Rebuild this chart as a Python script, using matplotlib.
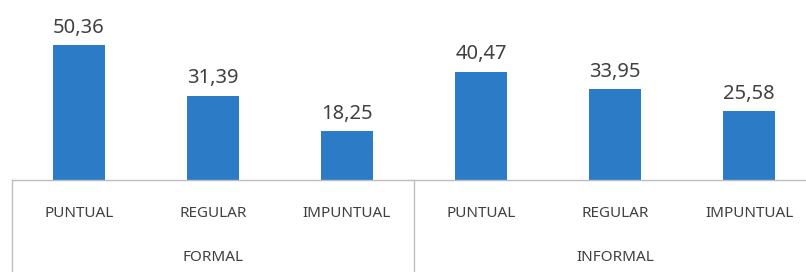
import matplotlib
matplotlib.use("Agg")
import matplotlib.pyplot as plt
import matplotlib.transforms as mtransforms

plt.rcParams['font.family'] = ['Noto Sans', 'DejaVu Sans']

groups = ['FORMAL', 'INFORMAL']
categories = ['PUNTUAL', 'REGULAR', 'IMPUNTUAL']
formal = [50.36, 31.39, 18.25]
informal = [40.47, 33.95, 25.58]

values = formal + informal
labels = categories * len(groups)
x = list(range(len(values)))

bar_color = '#2B7BC6'
text_color = '#404040'
line_color = '#BDBDBD'

fig = plt.figure(figsize=(8.06, 2.72), dpi=100)
# axes: left edge at 12px, baseline at 180px, top at figure top
ax = fig.add_axes([12 / 806, 92 / 272, 794 / 806, 180 / 272])

bars = ax.bar(x, values, width=0.39, color=bar_color)
for rect, v in zip(bars, values):
    ax.text(rect.get_x() + rect.get_width() / 2, v + 2.8,
            '{:.2f}'.format(v).replace('.', ','),
            ha='center', va='bottom', fontsize=14.5, color=text_color)

ax.set_xlim(-0.5, 5.425)
ax.set_ylim(0, 67.2)
ax.set_yticks([])
for side in ('top', 'right', 'left'):
    ax.spines[side].set_visible(False)
ax.spines['bottom'].set_color(line_color)
ax.spines['bottom'].set_linewidth(1.0)

ax.set_xticks(x)
ax.set_xticklabels(labels, fontsize=11, color=text_color)
ax.tick_params(axis='x', length=0, pad=19)

trans = mtransforms.blended_transform_factory(ax.transData, ax.transAxes)
n = len(categories)
for g, name in enumerate(groups):
    left = g * n - 0.5
    ax.plot([left, left], [0, -0.52], transform=trans, color=line_color,
            lw=1.0, clip_on=False)
    ax.text(g * n + (n - 1) / 2, -0.428, name, transform=trans,
            ha='center', va='center', fontsize=11, color=text_color)

fig.savefig('out.png', dpi=100)
